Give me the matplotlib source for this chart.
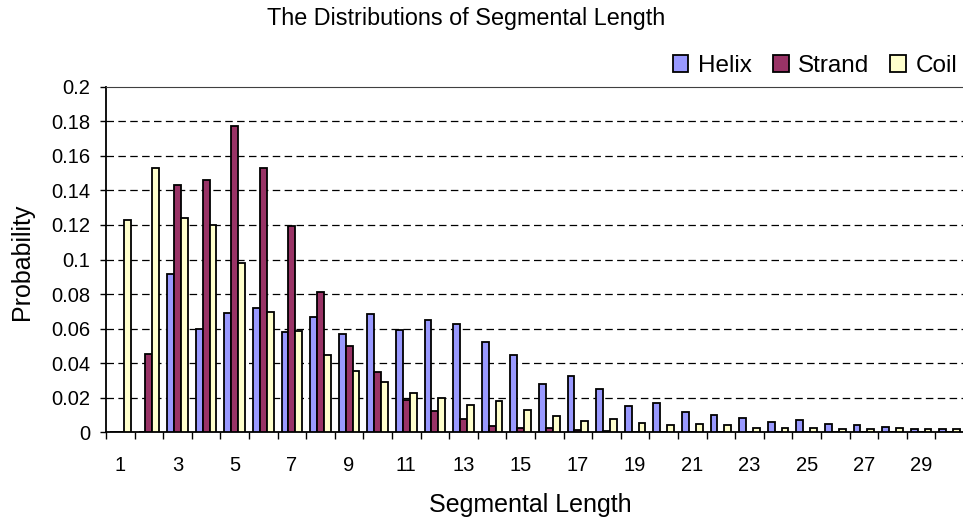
import matplotlib
matplotlib.use("Agg")
import matplotlib.pyplot as plt
import numpy as np

# Segment lengths 1..30
lengths = list(range(1, 31))

helix = [0.0, 0.0, 0.0916, 0.0598, 0.0689, 0.0721, 0.0579, 0.0665, 0.0570, 0.0686,
         0.0593, 0.0649, 0.0626, 0.0524, 0.0450, 0.0282, 0.0327, 0.0252, 0.0150, 0.0171,
         0.0118, 0.0101, 0.0085, 0.0061, 0.0069, 0.0049, 0.0042, 0.0032, 0.0017, 0.0017]
strand = [0.0, 0.0451, 0.1431, 0.1458, 0.1774, 0.1527, 0.1192, 0.0814, 0.0497, 0.0348,
          0.0187, 0.0126, 0.0075, 0.0039, 0.0023, 0.0027, 0.0015, 0.0010, 0.0, 0.0,
          0.0, 0.0, 0.0, 0.0, 0.0, 0.0, 0.0, 0.0, 0.0, 0.0]
coil = [0.1229, 0.1527, 0.1242, 0.1200, 0.0978, 0.0694, 0.0586, 0.0447, 0.0356, 0.0290,
        0.0226, 0.0201, 0.0158, 0.0182, 0.0130, 0.0095, 0.0064, 0.0076, 0.0056, 0.0045,
        0.0047, 0.0040, 0.0027, 0.0027, 0.0022, 0.0020, 0.0017, 0.0023, 0.0017, 0.0020]

series_names = ["Helix", "Strand", "Coil"]
series_colors = ["#9999FF", "#993366", "#FFFFCC"]
y_ticks = [0, 0.02, 0.04, 0.06, 0.08, 0.1, 0.12, 0.14, 0.16, 0.18, 0.2]
y_tick_labels = ["0", "0.02", "0.04", "0.06", "0.08", "0.1", "0.12", "0.14", "0.16", "0.18", "0.2"]

plt.rcParams["font.family"] = ["Liberation Sans", "DejaVu Sans"]

W, H = 963, 524
fig = plt.figure(figsize=(W / 100, H / 100), dpi=100)
ax = fig.add_axes([106 / W, 1 - 432.3 / H, (964 - 106) / W, (432.3 - 86.7) / H])

x = np.arange(len(lengths))
bw = 0.24
for k, (vals, name, col) in enumerate(zip([helix, strand, coil], series_names, series_colors)):
    ax.bar(x + (k - 1) * bw, vals, width=bw, color=col, edgecolor="black",
           linewidth=1.3, label=name, zorder=3)

ax.set_xlim(-0.5, len(lengths) - 0.5)
ax.set_ylim(0, 0.2)

# y axis
ax.set_yticks(y_ticks)
ax.set_yticklabels(y_tick_labels, fontsize=14.5)
ax.tick_params(axis="y", direction="out", length=4.5, width=1, pad=7)
for yv in y_ticks[1:-1]:
    ax.axhline(yv, color="black", linestyle=(0, (6, 3.5)), linewidth=0.9, zorder=1)

# x axis: ticks at category boundaries, labels on odd lengths
ax.set_xticks(np.arange(len(lengths) + 1) - 0.5)
ax.set_xticklabels([])
ax.tick_params(axis="x", direction="out", length=5, width=1)
ax.set_xticks(x[::2], minor=True)
ax.set_xticklabels([str(v) for v in lengths[::2]], minor=True, fontsize=14.5)
ax.tick_params(axis="x", which="minor", length=0, pad=17)

ax.spines["right"].set_visible(False)
ax.spines["top"].set_color("#404040")
ax.spines["left"].set_linewidth(1.3)
ax.spines["bottom"].set_linewidth(1.3)

ax.set_ylabel("Probability", fontsize=18)
ax.yaxis.label.set_va("center")
ax.yaxis.set_label_coords((22 - 106) / 858, (432.3 - 261.5) / 345.6)
ax.set_xlabel("Segmental Length", fontsize=18)
ax.xaxis.label.set_va("center")
ax.xaxis.set_label_coords((530.5 - 106) / 858, -(505 - 432.3) / 345.6)

fig.text(466 / W, 1 - 19 / H, "The Distributions of Segmental Length", fontsize=16.8,
         ha="center", va="center")

handles, labels = ax.get_legend_handles_labels()
fig.legend(handles, labels, loc="center right", bbox_to_anchor=(972 / W, 1 - 66 / H),
           ncol=3, frameon=False, fontsize=17.5, handlelength=0.65, handleheight=0.65,
           handletextpad=0.4, columnspacing=0.85, borderpad=0.1)

fig.savefig("out.png", dpi=100)
